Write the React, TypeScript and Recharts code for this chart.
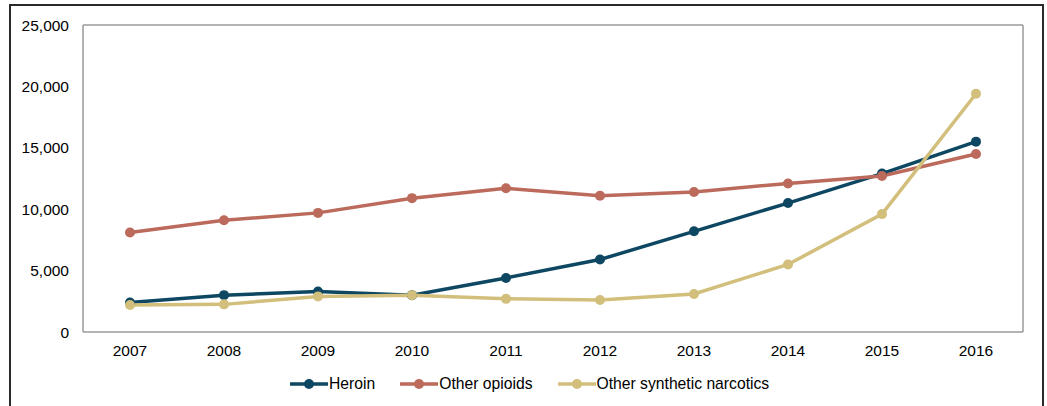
import { LineChart, Line, XAxis, YAxis } from 'recharts'

const years = ['2007', '2008', '2009', '2010', '2011', '2012', '2013', '2014', '2015', '2016']
const heroin = [2400, 3000, 3300, 3000, 4400, 5900, 8200, 10500, 12900, 15500]
const otherOpioids = [8100, 9100, 9700, 10900, 11700, 11100, 11400, 12100, 12700, 14500]
const syntheticNarcotics = [2200, 2250, 2900, 3000, 2700, 2600, 3100, 5500, 9600, 19400]
const yTicks = [0, 5000, 10000, 15000, 20000, 25000]

const series = [
  { key: 'heroin', name: 'Heroin', color: '#0d4761' },
  { key: 'opioids', name: 'Other opioids', color: '#bb6a5b' },
  { key: 'synthetic', name: 'Other synthetic narcotics', color: '#d2bf7b' },
]

const data = years.map((year, i) => ({
  year,
  heroin: heroin[i],
  opioids: otherOpioids[i],
  synthetic: syntheticNarcotics[i],
}))

const FONT = '"Liberation Sans", Arial, sans-serif'
const tickStyle = { fill: '#000', fontSize: 15.5, fontFamily: FONT }
const frame = '#9a9a9a'

function LegendRow() {
  return (
    <div
      style={{
        position: 'absolute',
        left: 290,
        top: 374,
        display: 'flex',
        alignItems: 'center',
        gap: 25,
        fontFamily: FONT,
        fontSize: 15.7,
        color: '#000',
      }}
    >
      {series.map((s) => (
        <div key={s.key} style={{ display: 'flex', alignItems: 'center', height: 20 }}>
          <svg width={38} height={12} style={{ marginRight: 1 }}>
            <line x1={0} y1={6} x2={38} y2={6} stroke={s.color} strokeWidth={3.5} />
            <circle cx={19} cy={6} r={5} fill={s.color} />
          </svg>
          <span>{s.name}</span>
        </div>
      ))}
    </div>
  )
}

export default function App() {
  return (
    <div style={{ position: 'fixed', left: 0, top: 0, width: 1047, height: 406, background: '#fff', overflow: 'hidden' }}>
      <div
        style={{
          position: 'absolute',
          left: 9,
          top: 4,
          width: 1031,
          height: 430,
          border: '2px solid #2a2a2a',
        }}
      />
      <div style={{ position: 'absolute', left: 0, top: 0 }}>
        <LineChart width={1047} height={406} data={data} margin={{ top: 24, right: 23, left: 0, bottom: 44 }}>
          <XAxis
            dataKey="year"
            height={30}
            padding={{ left: 47, right: 47 }}
            tick={tickStyle}
            tickLine={false}
            tickMargin={7}
            axisLine={{ stroke: frame, strokeWidth: 1.5 }}
          />
          {/* top and right edges of the plot frame */}
          <XAxis xAxisId="top" orientation="top" dataKey="year" height={1} tick={false} tickLine={false} axisLine={{ stroke: frame, strokeWidth: 1.5 }} />
          <YAxis
            width={83}
            domain={[0, 25000]}
            ticks={yTicks}
            tickFormatter={(v: number) => v.toLocaleString('en-US')}
            tick={tickStyle}
            tickLine={false}
            tickMargin={8}
            axisLine={{ stroke: frame, strokeWidth: 1.5 }}
          />
          <YAxis yAxisId="right" orientation="right" width={1} domain={[0, 25000]} tick={false} tickLine={false} axisLine={{ stroke: frame, strokeWidth: 1.5 }} />
          {series.map((s) => (
            <Line
              key={s.key}
              dataKey={s.key}
              name={s.name}
              stroke={s.color}
              strokeWidth={3.5}
              dot={{ r: 5, fill: s.color, stroke: s.color, strokeWidth: 0 }}
              activeDot={false}
              isAnimationActive={false}
            />
          ))}
        </LineChart>
      </div>
      <LegendRow />
    </div>
  )
}
